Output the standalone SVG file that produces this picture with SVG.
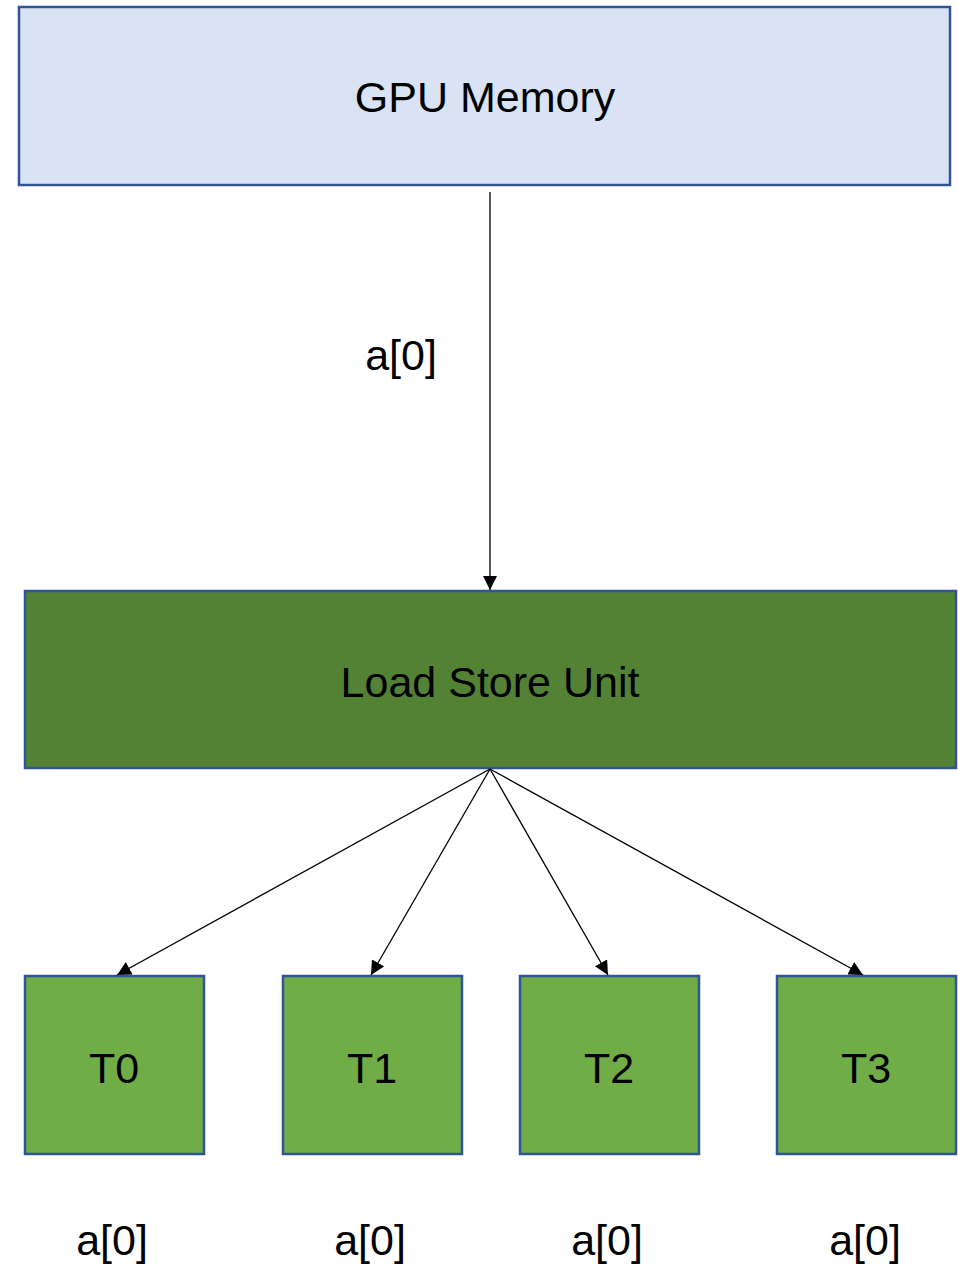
<svg xmlns="http://www.w3.org/2000/svg" width="958" height="1264" viewBox="0 0 958 1264">
<style>
text{font-family:"Liberation Sans",Arial,sans-serif;font-size:43px;fill:#000;text-anchor:middle}
.box{stroke:#2F5597;stroke-width:2.5}
.conn{stroke:#000;stroke-width:1.3;fill:none;marker-end:url(#ah)}
</style>
<defs>
<marker id="ah" viewBox="0 0 10 10" refX="10" refY="5" markerWidth="14" markerHeight="14" markerUnits="userSpaceOnUse" orient="auto">
<path d="M0,0 L10,5 L0,10 z" fill="#000"/>
</marker>
</defs>
<rect width="958" height="1264" fill="#fff"/>
<g id="gpu-memory">
<rect class="box" x="19" y="7" width="931" height="178" fill="#DAE3F3"/>
<text x="485" y="112">GPU Memory</text>
</g>
<g id="lsu">
<rect class="box" x="25" y="591" width="931" height="177" fill="#548235"/>
<text x="490" y="697">Load Store Unit</text>
</g>
<g id="t0">
<rect class="box" x="25" y="976" width="179" height="178" fill="#70AD47"/>
<text x="114" y="1083">T0</text>
</g>
<g id="t1">
<rect class="box" x="283" y="976" width="179" height="178" fill="#70AD47"/>
<text x="372" y="1083">T1</text>
</g>
<g id="t2">
<rect class="box" x="520" y="976" width="179" height="178" fill="#70AD47"/>
<text x="609" y="1083">T2</text>
</g>
<g id="t3">
<rect class="box" x="777" y="976" width="179" height="178" fill="#70AD47"/>
<text x="866" y="1083">T3</text>
</g>
<g id="connectors">
<line class="conn" x1="490" y1="192" x2="490" y2="590"/>
<line class="conn" x1="490" y1="769" x2="117" y2="975"/>
<line class="conn" x1="490" y1="769" x2="371" y2="975"/>
<line class="conn" x1="490" y1="769" x2="608" y2="975"/>
<line class="conn" x1="490" y1="769" x2="863" y2="975"/>
</g>
<g id="labels">
<text x="401" y="370">a[0]</text>
<text x="112" y="1255">a[0]</text>
<text x="370" y="1255">a[0]</text>
<text x="607" y="1255">a[0]</text>
<text x="865" y="1255">a[0]</text>
</g>
</svg>
